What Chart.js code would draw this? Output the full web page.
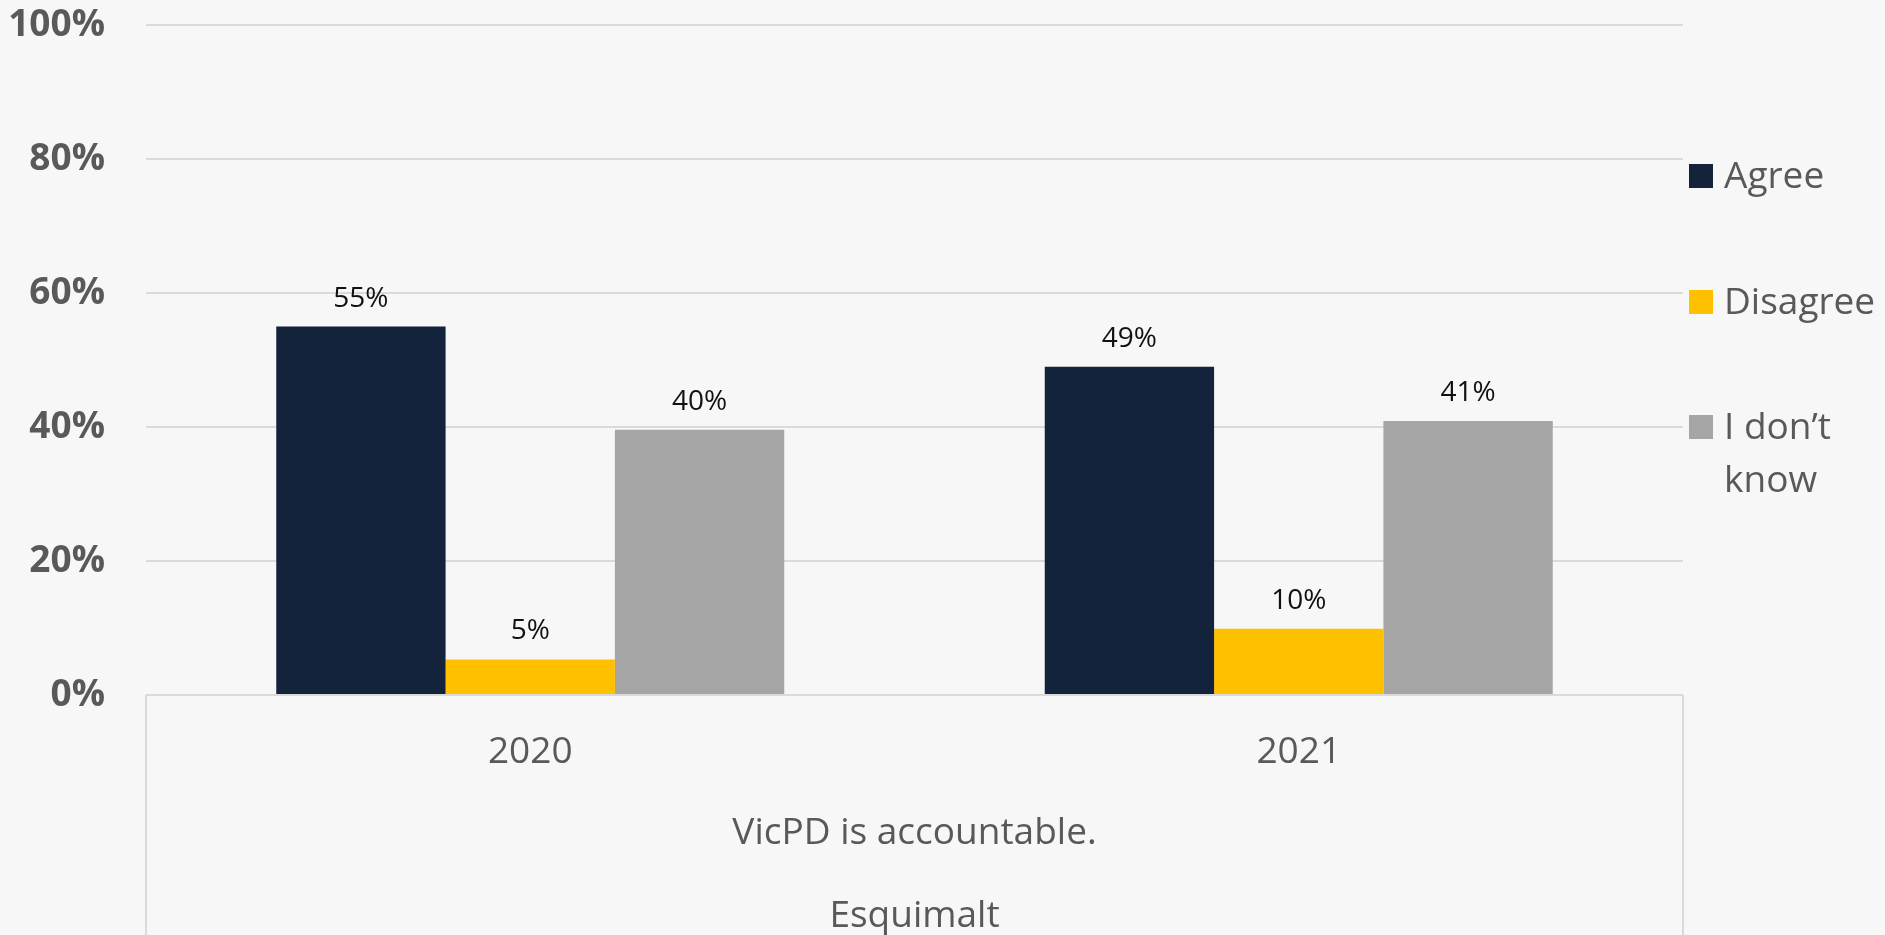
<!DOCTYPE html>
<html><head><meta charset="utf-8">
<script src="https://cdn.jsdelivr.net/npm/chart.js@4.4.1/dist/chart.umd.min.js"></script>
<style>html,body{margin:0;padding:0;background:#f7f7f7;overflow:hidden}#wrap{width:1885px;height:935px;position:relative}</style>
</head><body><div id="wrap"><canvas id="c" width="1885" height="935"></canvas></div>
<script>
const categories = ['2020', '2021'];
const groupLabels = ['VicPD is accountable.', 'Esquimalt'];
const seriesNames = ['Agree', 'Disagree', 'I don’t know'];
const agree = [55, 49];
const disagree = [5.3, 9.9];
const dontKnow = [39.6, 40.9];
const yTicks = [0, 20, 40, 60, 80, 100];
const seriesColors = ['#14233c', '#ffc000', '#a5a5a5'];

const FONT = "'Open Sans', sans-serif";
const TXT = '#595959';
const GRID = '#dadada';

const customPlugin = {
  id: 'custom',
  beforeDraw(chart) {
    const ctx = chart.ctx;
    ctx.save();
    ctx.fillStyle = '#f7f7f7';
    ctx.fillRect(0, 0, chart.width, chart.height);
    ctx.restore();
  },
  afterDraw(chart) {
    const ctx = chart.ctx;
    const ca = chart.chartArea;
    const xs = chart.scales.x;
    ctx.save();
    // category box
    ctx.strokeStyle = GRID;
    ctx.lineWidth = 2;
    ctx.beginPath();
    ctx.moveTo(ca.left, ca.bottom); ctx.lineTo(ca.left, chart.height);
    ctx.moveTo(ca.right, ca.bottom); ctx.lineTo(ca.right, chart.height);
    ctx.moveTo(ca.left, ca.bottom); ctx.lineTo(ca.right, ca.bottom);
    ctx.stroke();

    // data labels
    ctx.fillStyle = '#111';
    ctx.font = `28px ${FONT}`;
    ctx.textAlign = 'center';
    ctx.textBaseline = 'alphabetic';
    chart.data.datasets.forEach((ds, i) => {
      const meta = chart.getDatasetMeta(i);
      meta.data.forEach((el, j) => {
        ctx.fillText(Math.round(ds.data[j]) + '%', el.x, el.y - 20);
      });
    });

    // category labels
    ctx.fillStyle = TXT;
    ctx.font = `37px ${FONT}`;
    categories.forEach((c, i) => {
      ctx.fillText(c, xs.getPixelForValue(i), ca.bottom + 68);
    });
    const mid = (ca.left + ca.right) / 2;
    ctx.fillText(groupLabels[0], mid, ca.bottom + 149);
    ctx.fillText(groupLabels[1], mid, ca.bottom + 232);

    // legend
    const lx = ca.right + 6;
    const centers = [176, 302, 427];
    ctx.textAlign = 'left';
    ctx.textBaseline = 'middle';
    chart.data.datasets.forEach((ds, i) => {
      const cy = centers[i];
      ctx.fillStyle = ds.backgroundColor;
      ctx.fillRect(lx, cy - 12, 24, 24);
      ctx.fillStyle = TXT;
      const maxW = chart.width - (lx + 35) - 4;
      const words = ds.label.split(' ');
      const lines = [];
      let cur = '';
      words.forEach(w => {
        const t = cur ? cur + ' ' + w : w;
        if (ctx.measureText(t).width > maxW && cur) { lines.push(cur); cur = w; }
        else cur = t;
      });
      lines.push(cur);
      lines.forEach((l, k) => ctx.fillText(l, lx + 35, cy + 1 + k * 53));
    });
    ctx.restore();
  }
};

new Chart(document.getElementById('c'), {
  type: 'bar',
  data: {
    labels: categories,
    datasets: [
      { label: seriesNames[0], data: agree, backgroundColor: seriesColors[0] },
      { label: seriesNames[1], data: disagree, backgroundColor: seriesColors[1] },
      { label: seriesNames[2], data: dontKnow, backgroundColor: seriesColors[2] }
    ]
  },
  options: {
    responsive: false,
    animation: false,
    layout: { padding: { top: 25, right: 202, left: 0, bottom: 0 } },
    datasets: { bar: { categoryPercentage: 0.661, barPercentage: 1.0, borderWidth: 0 } },
    plugins: { legend: { display: false }, tooltip: { enabled: false } },
    scales: {
      x: {
        grid: { display: false },
        border: { display: false },
        ticks: { display: false },
        afterFit(s) { s.height = 240; s.paddingLeft = 0; s.paddingRight = 0; }
      },
      y: {
        min: 0, max: 100,
        afterBuildTicks(s) { s.ticks = yTicks.map(v => ({ value: v })); },
        ticks: {
          callback: v => v + '%',
          font: { family: FONT, size: 37, weight: 'bold' },
          color: TXT,
          padding: 41
        },
        grid: { color: GRID, lineWidth: 2, drawTicks: false },
        border: { display: false },
        afterFit(s) { s.width = 146; s.paddingTop = 0; s.paddingBottom = 0; }
      }
    }
  },
  plugins: [customPlugin]
});
</script>
</body></html>
